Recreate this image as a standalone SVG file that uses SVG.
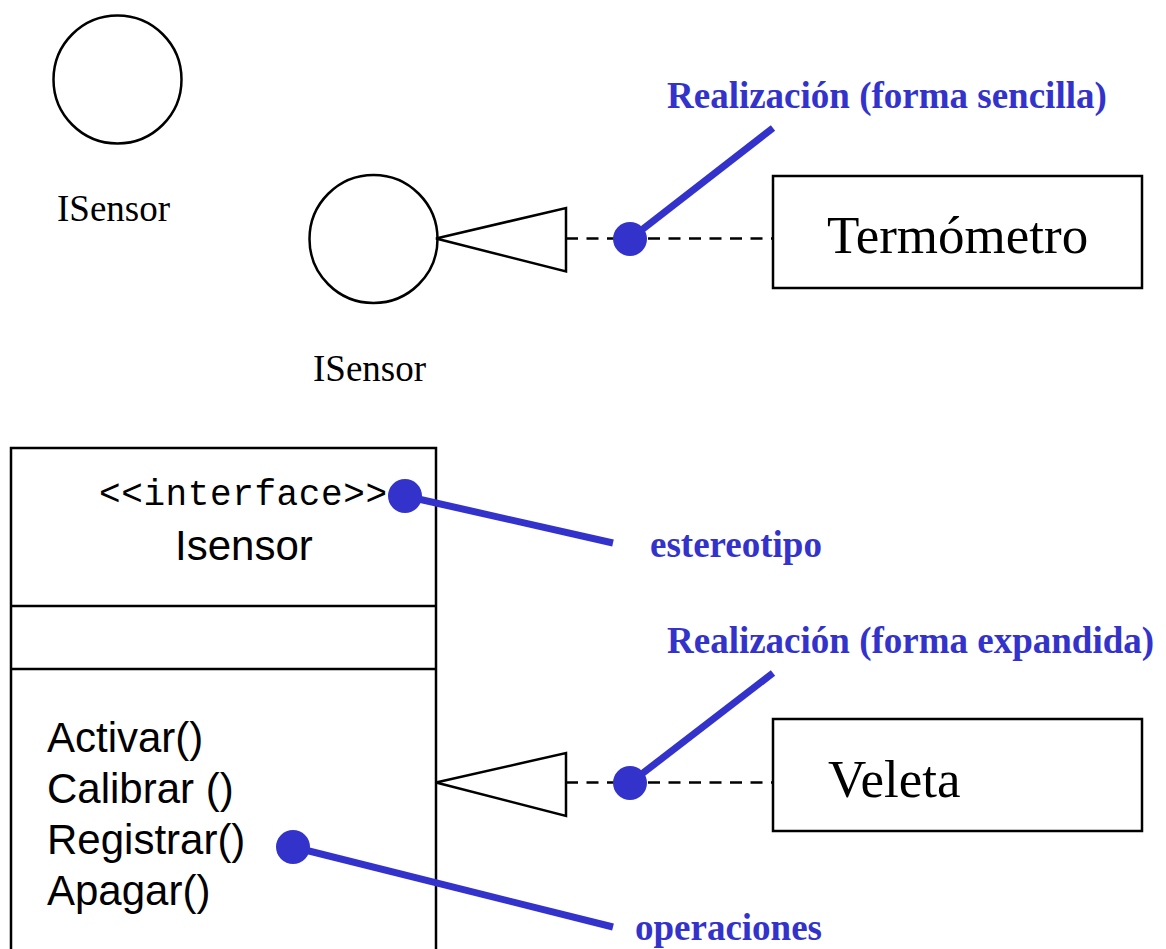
<svg xmlns="http://www.w3.org/2000/svg" width="1166" height="949" viewBox="0 0 1166 949">
  <style>
    .shape { fill: #ffffff; stroke: #000000; stroke-width: 2.5; }
    .serif { font-family: "Liberation Serif", "Times New Roman", serif; fill: #000000; }
    .sans { font-family: "Liberation Sans", Arial, sans-serif; fill: #000000; font-size: 42px; }
    .mono { font-family: "Liberation Mono", "Courier New", monospace; fill: #000000; font-size: 36px; }
    .note { font-family: "Liberation Serif", "Times New Roman", serif; font-weight: bold; font-size: 37px; fill: #3333CC; }
    .dash { stroke: #000000; stroke-width: 2.5; stroke-dasharray: 12 8.5; fill: none; }
    .rule { stroke: #000000; stroke-width: 2.5; }
    .leader { stroke: #3333CC; stroke-width: 7; stroke-linecap: butt; fill: none; }
    .dot { fill: #3333CC; }
  </style>

  <!-- Standalone interface lollipop -->
  <g id="isensor-icon-1">
    <circle class="shape" cx="117.5" cy="79.5" r="64"/>
    <text class="serif" x="57" y="221" font-size="37">ISensor</text>
  </g>

  <!-- Interface lollipop realized by Termómetro -->
  <g id="isensor-icon-2">
    <circle class="shape" cx="373.5" cy="239" r="64"/>
    <text class="serif" x="313" y="381" font-size="37">ISensor</text>
  </g>

  <g id="termometro">
    <rect class="shape" x="773" y="176" width="369" height="112"/>
    <text class="serif" x="827" y="253" font-size="53">Termómetro</text>
  </g>

  <!-- Expanded interface class -->
  <g id="isensor-class">
    <rect class="shape" x="11" y="448" width="425" height="520"/>
    <line class="rule" x1="11" y1="606" x2="436" y2="606"/>
    <line class="rule" x1="11" y1="669" x2="436" y2="669"/>
    <text class="mono" x="99" y="505" textLength="288" lengthAdjust="spacing">&lt;&lt;interface&gt;&gt;</text>
    <text class="sans" x="175" y="560">Isensor</text>
    <text class="sans" x="47" y="752">Activar()</text>
    <text class="sans" x="47" y="803">Calibrar ()</text>
    <text class="sans" x="47" y="854">Registrar()</text>
    <text class="sans" x="47" y="905">Apagar()</text>
  </g>

  <g id="veleta">
    <rect class="shape" x="773" y="719" width="369" height="112"/>
    <text class="serif" x="828" y="797" font-size="53">Veleta</text>
  </g>

  <!-- Connectors (realization) -->
  <g id="connectors">
    <line class="dash" x1="566" y1="238.5" x2="773" y2="238.5"/>
    <polygon class="shape" points="436,238.5 566,208 566,271.5"/>
    <line class="dash" x1="566" y1="782.5" x2="773" y2="782.5"/>
    <polygon class="shape" points="436,782.5 566,753 566,816"/>
  </g>

  <!-- Annotations -->
  <g id="note-realizacion-sencilla">
    <line class="leader" x1="630" y1="239" x2="773" y2="128"/>
    <circle class="dot" cx="630" cy="239" r="17"/>
    <text class="note" x="667" y="108">Realización (forma sencilla)</text>
  </g>

  <g id="note-estereotipo">
    <line class="leader" x1="405" y1="496" x2="613" y2="543"/>
    <circle class="dot" cx="405" cy="496" r="17"/>
    <text class="note" x="650" y="557">estereotipo</text>
  </g>

  <g id="note-realizacion-expandida">
    <line class="leader" x1="630" y1="783" x2="773" y2="673"/>
    <circle class="dot" cx="630" cy="783" r="17"/>
    <text class="note" x="667" y="653">Realización (forma expandida)</text>
  </g>

  <g id="note-operaciones">
    <line class="leader" x1="293" y1="847" x2="613" y2="927"/>
    <circle class="dot" cx="293" cy="847" r="17"/>
    <text class="note" x="635" y="940">operaciones</text>
  </g>
</svg>
